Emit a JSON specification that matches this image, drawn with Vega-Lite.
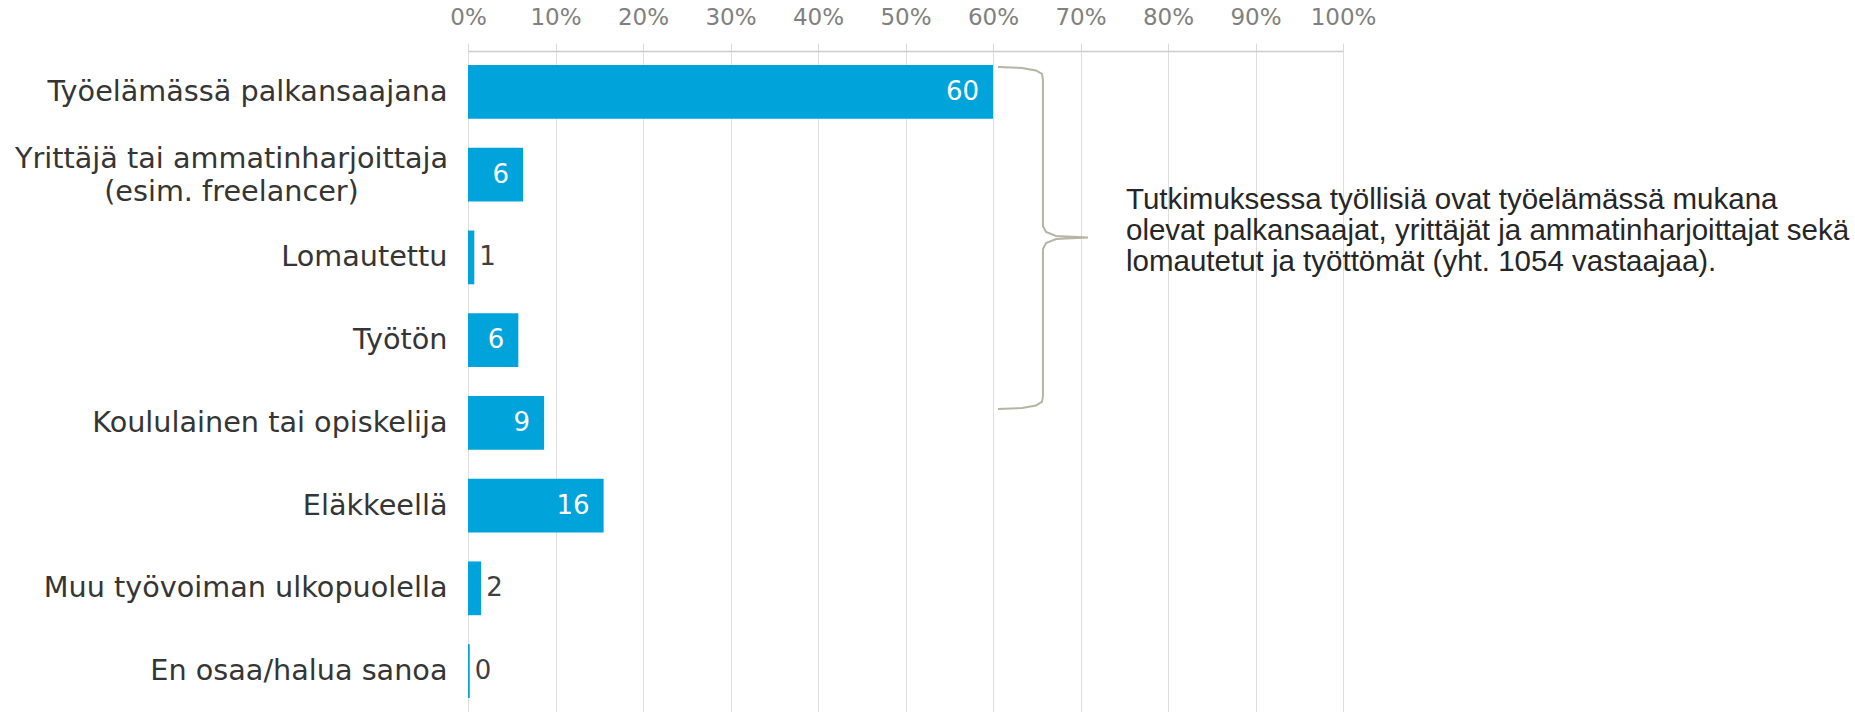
{
  "$schema": "https://vega.github.io/schema/vega-lite/v6.json",
  "width": 875,
  "height": 661,
  "autosize": {"type": "none"},
  "padding": {"left": 468, "top": 51, "right": 512, "bottom": 0},
  "background": "white",
  "config": {"view": {"stroke": null}, "font": "DejaVu Sans"},
  "datasets": {
    "bars": [
      {"category": "Työelämässä palkansaajana", "value": 60.0},
      {"category": "Yrittäjä tai ammatinharjoittaja (esim. freelancer)", "value": 6.3},
      {"category": "Lomautettu", "value": 0.72},
      {"category": "Työtön", "value": 5.75},
      {"category": "Koululainen tai opiskelija", "value": 8.7},
      {"category": "Eläkkeellä", "value": 15.5},
      {"category": "Muu työvoiman ulkopuolella", "value": 1.5},
      {"category": "En osaa/halua sanoa", "value": 0.2}
    ],
    "brace": [
      {"i": 1, "bx": 60.57, "by": 0.194},
      {"i": 2, "bx": 63.31, "by": 0.206},
      {"i": 3, "bx": 64.91, "by": 0.236},
      {"i": 4, "bx": 65.6, "by": 0.278},
      {"i": 5, "bx": 65.71, "by": 0.351},
      {"i": 6, "bx": 65.71, "by": 2.118},
      {"i": 7, "bx": 66.06, "by": 2.191},
      {"i": 8, "bx": 67.2, "by": 2.239},
      {"i": 9, "bx": 70.86, "by": 2.257},
      {"i": 10, "bx": 67.2, "by": 2.275},
      {"i": 11, "bx": 66.06, "by": 2.324},
      {"i": 12, "bx": 65.71, "by": 2.396},
      {"i": 13, "bx": 65.71, "by": 4.176},
      {"i": 14, "bx": 65.6, "by": 4.248},
      {"i": 15, "bx": 64.91, "by": 4.29},
      {"i": 16, "bx": 63.31, "by": 4.321},
      {"i": 17, "bx": 60.57, "by": 4.333}
    ],
    "note": [
      {"note": "Tutkimuksessa työllisiä ovat työelämässä mukana\nolevat palkansaajat, yrittäjät ja ammatinharjoittajat sekä\nlomautetut ja työttömät (yht. 1054 vastaajaa).", "nx": 75.2, "ny": 1.8}
    ]
  },
  "layer": [
    {
      "data": {"name": "bars"},
      "encoding": {
        "y": {
          "field": "category",
          "type": "nominal",
          "sort": null,
          "title": null,
          "scale": {"paddingInner": 0.35, "paddingOuter": 0.17},
          "axis": {
            "domain": false,
            "ticks": false,
            "grid": false,
            "labelFontSize": 28.7,
            "labelFont": "DejaVu Sans",
            "labelColor": "#353535",
            "labelLimit": 0,
            "labelLineHeight": 33,
            "labelOffset": {"condition": {"test": "indexof(datum.value, ' (') > 0", "value": -16}, "value": 0},
            "labelAlign": {"condition": {"test": "indexof(datum.value, ' (') > 0", "value": "center"}, "value": "right"},
            "labelPadding": {"condition": {"test": "indexof(datum.value, ' (') > 0", "value": 237}, "value": 21},
            "labelExpr": "indexof(datum.label, ' (') > 0 ? [slice(datum.label, 0, indexof(datum.label, ' (')), slice(datum.label, indexof(datum.label, ' (') + 1)] : datum.label"
          }
        },
        "x": {
          "field": "value",
          "type": "quantitative",
          "title": null,
          "scale": {"domain": [0, 100], "nice": false},
          "axis": {
            "orient": "top",
            "values": [0, 10, 20, 30, 40, 50, 60, 70, 80, 90, 100],
            "labelExpr": "datum.value + '%'",
            "labelFlush": false,
            "tickSize": 8,
            "tickColor": "#d9d9d9",
            "domainColor": "#cccccc",
            "domainWidth": 1.5,
            "gridColor": "#dedede",
            "labelColor": "#808080",
            "labelFontSize": 23,
            "labelFont": "DejaVu Sans",
            "labelPadding": 13.5
          }
        }
      },
      "layer": [
        {"mark": {"type": "bar", "color": "#00a4db"}},
        {
          "transform": [{"filter": "datum.value >= 5"}],
          "mark": {"type": "text", "align": "right", "baseline": "middle", "dx": -14, "color": "white", "fontSize": 26, "font": "DejaVu Sans"},
          "encoding": {"text": {"field": "value", "type": "quantitative", "format": ".0f"}}
        },
        {
          "transform": [{"filter": "datum.value < 5"}],
          "mark": {"type": "text", "align": "left", "baseline": "middle", "dx": 5, "color": "#404040", "fontSize": 26, "font": "DejaVu Sans"},
          "encoding": {"text": {"field": "value", "type": "quantitative", "format": ".0f"}}
        }
      ]
    },
    {
      "layer": [
        {
          "data": {"name": "brace"},
          "mark": {"type": "line", "color": "#b5b5a5", "strokeWidth": 2},
          "encoding": {
            "x": {"field": "bx", "type": "quantitative", "title": null, "scale": {"domain": [0, 100], "nice": false}},
            "y": {"field": "by", "type": "quantitative", "title": null, "scale": {"domain": [0, 8], "reverse": true, "nice": false, "zero": false}, "axis": null},
            "order": {"field": "i", "type": "quantitative"}
          }
        },
        {
          "data": {"name": "note"},
          "mark": {"type": "text", "align": "left", "baseline": "middle", "font": "Liberation Sans", "fontSize": 29.5, "lineHeight": 31, "lineBreak": "\n", "color": "#262626"},
          "encoding": {
            "x": {"field": "nx", "type": "quantitative", "title": null, "scale": {"domain": [0, 100], "nice": false}},
            "y": {"field": "ny", "type": "quantitative", "title": null, "scale": {"domain": [0, 8], "reverse": true, "nice": false, "zero": false}, "axis": null},
            "text": {"field": "note"}
          }
        }
      ]
    }
  ],
  "resolve": {"scale": {"y": "independent"}, "axis": {"y": "independent"}}
}
